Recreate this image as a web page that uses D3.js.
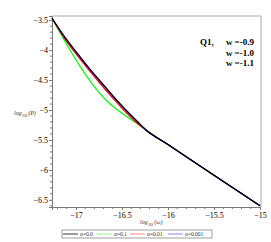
<!DOCTYPE html>
<html>
<head>
<meta charset="utf-8">
<script src="https://cdn.jsdelivr.net/npm/d3@7"></script>
<style>
  body { margin: 0; background: #fff; }
  text { font-family: "Liberation Serif", "DejaVu Serif", serif; }
</style>
</head>
<body>
<div id="graph"></div>
<script>
// log10(omega) and log10(P)
var xLine = [-16.0, -15.5, -15.0]
var yLine = [-5.576, -6.09, -6.60]

var xA0 = [-17.26, -17.12, -16.978, -16.848, -16.717, -16.587, -16.457, -16.337, -16.239]
var yA0 = [-3.467, -3.783, -4.067, -4.317, -4.55, -4.783, -5.0, -5.183, -5.333]

var xA01 = [-17.26, -17.173, -17.086, -16.999, -16.912, -16.825, -16.738, -16.652, -16.565, -16.456, -16.347, -16.239]
var yA01 = [-3.467, -3.711, -3.944, -4.165, -4.372, -4.559, -4.726, -4.866, -4.98, -5.10, -5.215, -5.333]

var xA001 = [-17.26, -17.13, -16.99, -16.86, -16.73, -16.60, -16.47, -16.35, -16.239]
var yA001 = [-3.467, -3.79, -4.08, -4.33, -4.57, -4.80, -5.02, -5.20, -5.333]

var xA0001 = [-17.26, -17.122, -16.98, -16.85, -16.72, -16.59, -16.46, -16.34, -16.239]
var yA0001 = [-3.467, -3.785, -4.07, -4.32, -4.553, -4.786, -5.003, -5.186, -5.333]

var xTicks = [-17, -16.5, -16, -15.5, -15]
var yTicks = [-3.5, -4, -4.5, -5, -5.5, -6, -6.5]

var legendNames = ["\u03b1=0.0", "\u03b1=0.1", "\u03b1=0.01", "\u03b1=0.001"]
var legendColors = ["#000000", "#00ff00", "#ff0000", "#0000ff"]
var titleLines = ["w =-0.9", "w =-1.0", "w =-1.1"]

function pts(xs, ys) {
    var out = xs.map((d, i) => [d, ys[i]])
    return out.concat(xLine.map((d, i) => [d, yLine[i]]))
}

const width = 271, height = 242
const svg = d3.select("#graph").append("svg")
    .attr("width", width)
    .attr("height", height)

const x = d3.scaleLinear().domain([-17.26, -15]).range([52, 260])
const y = d3.scaleLinear().domain([-3.43, -6.62]).range([16, 207])

// frame top / right
svg.append("line").attr("x1", 52).attr("x2", 261).attr("y1", 16).attr("y2", 16)
    .attr("stroke", "#aaa").attr("stroke-width", 1)
svg.append("line").attr("x1", 261).attr("x2", 261).attr("y1", 16).attr("y2", 207)
    .attr("stroke", "#aaa").attr("stroke-width", 1)

// minor ticks
const xMinor = d3.range(-17.2, -14.99, 0.1).filter(v => Math.abs(v * 2 - Math.round(v * 2)) > 0.01)
const yMinor = d3.range(-3.5, -6.61, -0.1).filter(v => Math.abs(v * 2 - Math.round(v * 2)) > 0.01)

const xAxis = svg.append("g")
    .attr("transform", "translate(0,207)")
    .call(d3.axisBottom(x).tickValues(xTicks).tickSize(3).tickPadding(2).tickFormat(d3.format("")))
xAxis.append("g").selectAll("line").data(xMinor).enter().append("line")
    .attr("x1", d => x(d)).attr("x2", d => x(d)).attr("y1", 0).attr("y2", 2)
    .attr("stroke", "#777")

const yAxis = svg.append("g")
    .attr("transform", "translate(52,0)")
    .call(d3.axisLeft(y).tickValues(yTicks).tickSize(3).tickPadding(1).tickFormat(d3.format("")))
yAxis.append("g").selectAll("line").data(yMinor).enter().append("line")
    .attr("x1", 0).attr("x2", -2).attr("y1", d => y(d)).attr("y2", d => y(d))
    .attr("stroke", "#777")

svg.selectAll(".domain").attr("stroke", "#777")
svg.selectAll(".tick line").attr("stroke", "#777")
svg.selectAll(".tick text").attr("font-size", 8).attr("fill", "#000")
    .style("font-family", "'Liberation Serif', serif")

// axis titles
const yl = svg.append("text").attr("x", 14).attr("y", 115)
    .attr("font-size", 6).attr("font-style", "italic").attr("fill", "#333")
yl.append("tspan").text("log")
yl.append("tspan").attr("font-size", 5).attr("dy", 2).text("10")
yl.append("tspan").attr("dy", -2).text("  (P)")

const xl = svg.append("text").attr("x", 140).attr("y", 224)
    .attr("font-size", 6).attr("font-style", "italic").attr("fill", "#333")
xl.append("tspan").text("log")
xl.append("tspan").attr("font-size", 5).attr("dy", 2).text("10")
xl.append("tspan").attr("dy", -2).text("  (\u03c9)")

// curves
const line = d3.line().x(d => x(d[0])).y(d => y(d[1])).curve(d3.curveMonotoneX)

const series = [
    { data: pts(xA01, yA01), color: legendColors[1] },
    { data: pts(xA001, yA001), color: legendColors[2] },
    { data: pts(xA0001, yA0001), color: legendColors[3] },
    { data: pts(xA0, yA0), color: legendColors[0] }
]
series.forEach(s => {
    svg.append("path")
        .datum(s.data)
        .attr("fill", "none")
        .attr("stroke", s.color)
        .attr("stroke-width", 1.2)
        .attr("d", line)
})

// title
svg.append("text").attr("x", 200).attr("y", 45)
    .attr("font-size", 9).attr("font-weight", "bold").text("Q1,")
titleLines.forEach((t, i) => {
    svg.append("text").attr("x", 254).attr("y", 45 + i * 10.5)
        .attr("text-anchor", "end")
        .attr("font-size", 9).attr("font-weight", "bold").text(t)
})

// legend
svg.append("rect").attr("x", 62).attr("y", 230).attr("width", 150).attr("height", 8)
    .attr("fill", "#fff").attr("stroke", "#888").attr("stroke-width", 0.8)
const legX = [63, 97, 130, 168]
legendNames.forEach((n, i) => {
    svg.append("line").attr("x1", legX[i]).attr("x2", legX[i] + 15)
        .attr("y1", 234).attr("y2", 234)
        .attr("stroke", legendColors[i]).attr("stroke-width", 0.8)
        .attr("stroke-opacity", i == 0 ? 1 : 0.6)
    svg.append("text").attr("x", legX[i] + 17).attr("y", 236)
        .attr("font-size", 5.5).attr("fill", "#333").text(n)
})
</script>
</body>
</html>
